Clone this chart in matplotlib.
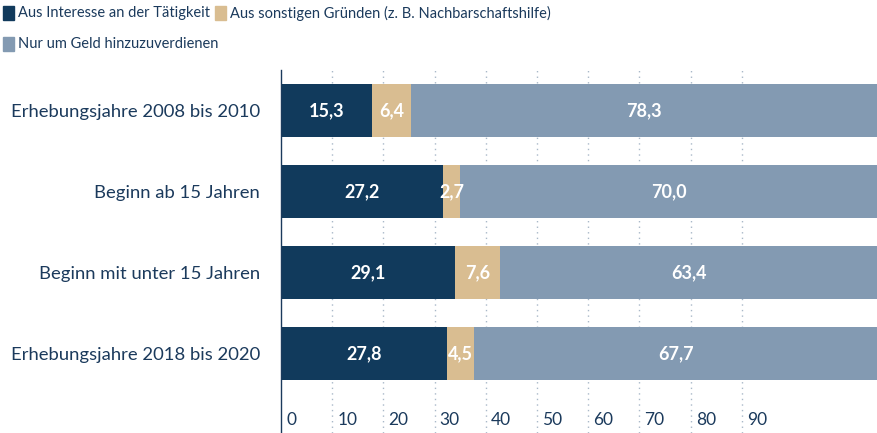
import matplotlib.pyplot as plt
from matplotlib.patches import Rectangle

plt.rcParams["font.family"] = ["Lato", "DejaVu Sans"]

categories = [
    "Erhebungsjahre 2008 bis 2010",
    "Beginn ab 15 Jahren",
    "Beginn mit unter 15 Jahren",
    "Erhebungsjahre 2018 bis 2020",
]
series_names = [
    "Aus Interesse an der Tätigkeit",
    "Aus sonstigen Gründen (z. B. Nachbarschaftshilfe)",
    "Nur um Geld hinzuzuverdienen",
]
interesse = [15.3, 27.2, 29.1, 27.8]
sonstige = [6.4, 2.7, 7.6, 4.5]
geld = [78.3, 70.0, 63.4, 67.7]
tick_values = [0, 10, 20, 30, 40, 50, 60, 70, 80, 90]

colors = ["#113a5c", "#d9bd91", "#839ab2"]
text_color = "#1b3a5c"

W, H = 878, 433
fig = plt.figure(figsize=(W / 100, H / 100), dpi=100)

# main axes for the bars (0..100)
ax = fig.add_axes([281 / W, 0, 597 / W, 363 / H])
# the grid/ticks in the original use a different scale than the bars
ax2 = ax.twiny()

ypos = list(range(len(categories)))
left = [0] * len(categories)
for vals, col in zip([interesse, sonstige, geld], colors):
    ax.barh(ypos, vals, left=left, height=0.65, color=col, zorder=2)
    for y, l, v in zip(ypos, left, vals):
        ax.text(l + v / 2, y, f"{v:.1f}".replace(".", ","), ha="center", va="center",
                color="white", fontsize=13, fontweight="bold", zorder=3)
    left = [a + b for a, b in zip(left, vals)]

ax.set_xlim(0, 100)
ax.set_ylim(3.98, -0.5)
ax.set_yticks(ypos)
ax.set_yticklabels(categories, fontsize=13.3, color=text_color)
ax.tick_params(axis="y", length=0, pad=15)
ax.set_xticks([])
for s in ["top", "right", "bottom"]:
    ax.spines[s].set_visible(False)
ax.spines["left"].set_color(text_color)
ax.spines["left"].set_linewidth(1)

ax2.set_xlim(0, 116.6)
ax2.set_xticks([])
for s in ax2.spines.values():
    s.set_visible(False)
for t in tick_values:
    if t > 0:
        ax2.axvline(t, color="#a9b8c8", linestyle=(0, (1, 3)), linewidth=1, zorder=0)
    ax2.text(t + 1.0, 3.82, str(t), ha="left", va="center", fontsize=12.5,
             color=text_color)
ax.set_zorder(ax2.get_zorder() + 1)
ax.patch.set_visible(False)

# legend drawn by hand at the top left
legend_pos = [(3, 13), (215, 13), (3, 44)]
for (x, y), name, col in zip(legend_pos, series_names, colors):
    fig.patches.append(Rectangle((x / W, 1 - (y + 7) / H), 11 / W, 14 / H,
                                 transform=fig.transFigure, color=col))
    fig.text((x + 15) / W, 1 - y / H, name, ha="left", va="center",
             fontsize=10.5, color=text_color)

fig.savefig("out.png", dpi=100)
